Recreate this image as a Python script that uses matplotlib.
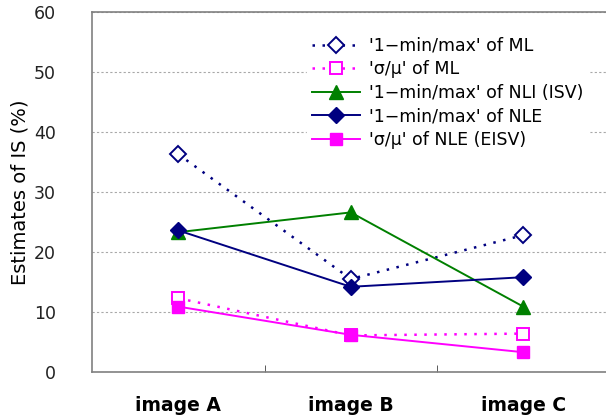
import matplotlib
matplotlib.use("Agg")
import matplotlib.pyplot as plt
from matplotlib.ticker import FixedLocator

plt.rcParams['font.family'] = ['DejaVu Sans']

categories = ["image A", "image B", "image C"]
ml_minmax = [36.3, 15.5, 22.8]
ml_cv = [12.3, 6.1, 6.4]
nli_minmax = [23.3, 26.6, 10.9]
nle_minmax = [23.6, 14.2, 15.8]
nle_cv = [10.9, 6.2, 3.3]

labels = ["'1\u2212min/max' of ML", "'\u03c3/\u03bc' of ML",
          "'1\u2212min/max' of NLI (ISV)", "'1\u2212min/max' of NLE",
          "'\u03c3/\u03bc' of NLE (EISV)"]

W, H = 606, 417
fig = plt.figure(figsize=(W / 100, H / 100), dpi=100)
left, right, top, bottom = 92, 609.5, 12, 372
ax = fig.add_axes([left / W, 1 - bottom / H, (right - left) / W, (bottom - top) / H])

x = range(len(categories))
navy, mag, green = "#000080", "#FF00FF", "#008000"

ax.plot(x, ml_minmax, color=navy, ls=(0, (1, 3)), lw=1.8, marker="D", ms=8,
        mfc="white", mec=navy, mew=1.4, label=labels[0], zorder=3)
ax.plot(x, ml_cv, color=mag, ls=(0, (1, 3)), lw=1.8, marker="s", ms=9,
        mfc="white", mec=mag, mew=1.4, label=labels[1], zorder=3)
ax.plot(x, nli_minmax, color=green, ls="-", lw=1.4, marker="^", ms=10,
        mfc=green, mec=green, label=labels[2], zorder=3)
ax.plot(x, nle_minmax, color=navy, ls="-", lw=1.4, marker="D", ms=8,
        mfc=navy, mec=navy, label=labels[3], zorder=3)
ax.plot(x, nle_cv, color=mag, ls="-", lw=1.4, marker="s", ms=9,
        mfc=mag, mec=mag, label=labels[4], zorder=3)

ax.set_xlim(-0.5, 2.5)
ax.set_ylim(0, 60)
ax.set_yticks(range(0, 61, 10))
ax.yaxis.grid(True, color="#A8A8A8", ls=(0, (2, 2)), lw=0.8)
ax.set_axisbelow(True)

ax.set_xticks(list(x))
ax.set_xticklabels(categories, fontsize=13.5, fontweight="bold")
ax.xaxis.set_minor_locator(FixedLocator([0.5, 1.5]))
ax.tick_params(axis="x", which="major", length=0, pad=17)
ax.tick_params(axis="x", which="minor", direction="in", length=5, color="#404040")
ax.tick_params(axis="y", length=0, pad=26, labelsize=12.5, labelcolor="#222222")

for s in ["left", "bottom", "top"]:
    ax.spines[s].set_color("#808080")
    ax.spines[s].set_linewidth(1.2)
ax.spines["right"].set_visible(False)

ax.set_ylabel("Estimates of IS (%)", fontsize=14, labelpad=3)

leg = ax.legend(loc="upper left", bbox_to_anchor=((298 - left) / (right - left), 1 - (23 - top) / (bottom - top)),
                frameon=True, fontsize=12.5, handlelength=2.8, handletextpad=0.5,
                labelspacing=0.32, borderpad=0.3, fancybox=False)
leg.get_frame().set_edgecolor("white")
leg.get_frame().set_facecolor("white")
leg.get_frame().set_alpha(1)

fig.savefig("out.png", dpi=100)
